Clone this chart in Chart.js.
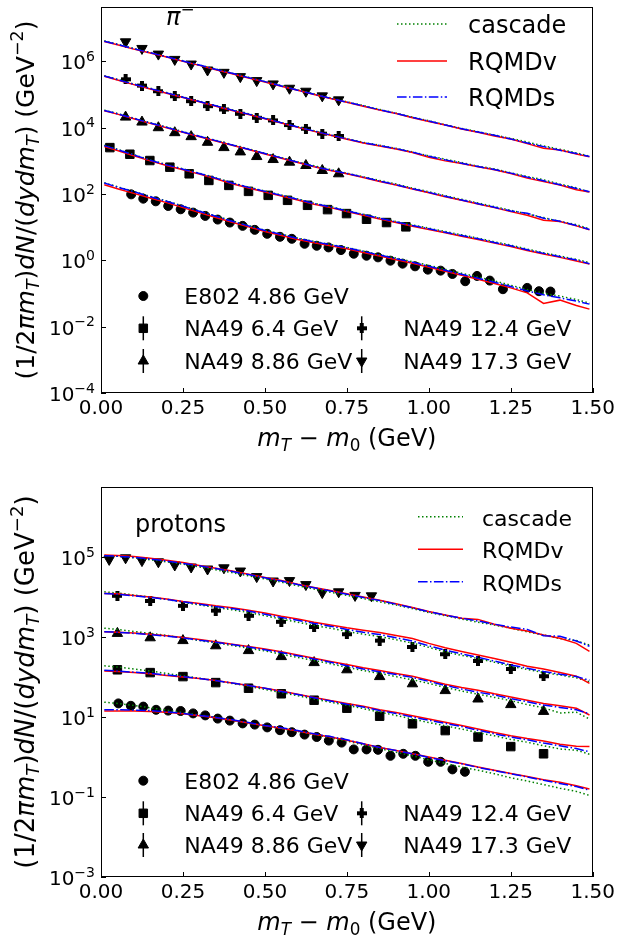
<!DOCTYPE html>
<html>
<head>
<meta charset="utf-8">
<script src="https://cdn.jsdelivr.net/npm/chart.js"></script>
<style>
  html, body { margin: 0; padding: 0; background: #fff; }
  #wrap { position: relative; width: 619px; height: 939px; }
  canvas { position: absolute; left: 0; }
  #cPi { top: 0; }
  #cP { top: 469px; }
</style>
</head>
<body>
<div id="wrap">
  <canvas id="cPi" width="619" height="470"></canvas>
  <canvas id="cP" width="619" height="470"></canvas>
</div>
<script>
'use strict';

// ─── DATA ───────────────────────────────────────────────────────────────────
// y values are kept as log10 of the value.
const xTicks = [0, 0.25, 0.5, 0.75, 1.0, 1.25, 1.5];
const piTickExp = [-4, -2, 0, 2, 4, 6];
const pTickExp = [-3, -1, 1, 3, 5];

// model curves: common mT - m0 grid (GeV)
const mtGrid = [0.01,0.05,0.10,0.15,0.20,0.25,0.30,0.35,0.40,0.45,0.50,0.55,0.60,0.65,0.70,0.75,0.80,0.85,0.90,0.95,1.00,1.05,1.10,1.15,1.20,1.25,1.30,1.35,1.40,1.45,1.49];

// pi- : cascade (C), RQMDv (V), RQMDs (S)
const piC173 = [6.62,6.52,6.39,6.27,6.14,6.02,5.89,5.77,5.64,5.52,5.39,5.27,5.14,5.02,4.90,4.78,4.67,4.55,4.44,4.32,4.21,4.09,3.98,3.88,3.78,3.68,3.57,3.45,3.35,3.24,3.14];
const piV173 = [6.60,6.50,6.37,6.25,6.13,6.00,5.88,5.75,5.63,5.50,5.38,5.25,5.13,5.00,4.88,4.77,4.65,4.53,4.43,4.30,4.19,4.08,3.96,3.86,3.75,3.66,3.52,3.38,3.33,3.21,3.12];
const piS173 = [6.61,6.51,6.38,6.26,6.14,6.01,5.89,5.76,5.64,5.51,5.39,5.26,5.13,5.01,4.89,4.77,4.66,4.54,4.43,4.31,4.20,4.08,3.97,3.87,3.77,3.66,3.54,3.43,3.32,3.22,3.13];
const piC124 = [5.57,5.46,5.32,5.19,5.06,4.93,4.80,4.67,4.54,4.42,4.29,4.16,4.03,3.91,3.79,3.67,3.56,3.47,3.38,3.27,3.15,3.05,2.95,2.84,2.76,2.64,2.53,2.43,2.30,2.19,2.05];
const piV124 = [5.55,5.44,5.30,5.17,5.04,4.91,4.78,4.65,4.52,4.40,4.27,4.14,4.01,3.89,3.77,3.65,3.54,3.45,3.36,3.25,3.11,3.00,2.92,2.82,2.73,2.62,2.48,2.38,2.27,2.13,2.06];
const piS124 = [5.56,5.45,5.31,5.18,5.05,4.92,4.79,4.66,4.53,4.41,4.28,4.15,4.02,3.90,3.78,3.66,3.55,3.46,3.37,3.26,3.14,3.03,2.93,2.83,2.74,2.63,2.51,2.40,2.28,2.17,2.07];
const piC886 = [4.53,4.43,4.29,4.15,4.02,3.88,3.75,3.62,3.49,3.36,3.23,3.10,2.97,2.85,2.74,2.63,2.52,2.41,2.30,2.18,2.07,1.95,1.84,1.73,1.62,1.51,1.40,1.29,1.17,1.08,0.95];
const piV886 = [4.51,4.41,4.27,4.13,4.00,3.86,3.73,3.60,3.47,3.34,3.21,3.08,2.95,2.82,2.71,2.61,2.50,2.38,2.27,2.15,2.04,1.92,1.81,1.70,1.59,1.47,1.36,1.21,1.17,1.04,0.92];
const piS886 = [4.52,4.42,4.28,4.14,4.01,3.87,3.74,3.61,3.48,3.35,3.22,3.09,2.96,2.83,2.72,2.62,2.51,2.39,2.28,2.16,2.05,1.93,1.82,1.71,1.60,1.49,1.42,1.27,1.18,1.05,0.93];
const piC64 = [3.47,3.35,3.19,3.03,2.89,2.76,2.63,2.49,2.34,2.21,2.09,1.97,1.85,1.72,1.62,1.50,1.39,1.28,1.17,1.07,0.97,0.87,0.77,0.67,0.56,0.46,0.34,0.23,0.13,0.03,-0.07];
const piV64 = [3.43,3.31,3.15,3.00,2.86,2.73,2.60,2.46,2.31,2.18,2.06,1.94,1.82,1.69,1.59,1.47,1.36,1.25,1.14,1.03,0.93,0.83,0.73,0.63,0.52,0.42,0.30,0.19,0.09,-0.02,-0.11];
const piS64 = [3.46,3.34,3.18,3.02,2.88,2.75,2.62,2.48,2.33,2.20,2.08,1.96,1.84,1.71,1.61,1.49,1.38,1.27,1.16,1.05,0.95,0.85,0.75,0.65,0.54,0.44,0.32,0.21,0.11,0.01,-0.10];
const piC486 = [2.34,2.22,2.08,1.93,1.79,1.64,1.49,1.34,1.19,1.05,0.91,0.79,0.67,0.57,0.48,0.39,0.28,0.17,0.07,-0.04,-0.15,-0.27,-0.39,-0.50,-0.62,-0.75,-0.88,-0.99,-1.08,-1.18,-1.29];
const piV486 = [2.28,2.16,2.02,1.88,1.74,1.59,1.44,1.29,1.15,1.01,0.87,0.75,0.63,0.53,0.44,0.35,0.24,0.13,0.02,-0.09,-0.21,-0.33,-0.45,-0.57,-0.70,-0.83,-0.98,-1.30,-1.20,-1.36,-1.47];
const piS486 = [2.33,2.21,2.07,1.92,1.78,1.63,1.48,1.33,1.18,1.04,0.90,0.78,0.66,0.56,0.47,0.38,0.27,0.16,0.05,-0.06,-0.18,-0.30,-0.42,-0.54,-0.66,-0.79,-0.92,-1.04,-1.13,-1.23,-1.32];

// pi- : measured points
const piE802X = [0.092,0.129,0.167,0.205,0.243,0.281,0.318,0.356,0.393,0.432,0.469,0.507,0.546,0.582,0.621,0.658,0.694,0.732,0.771,0.810,0.845,0.883,0.920,0.958,0.997,1.036,1.072,1.111,1.147,1.186,1.226,1.300,1.336,1.371];
const piE802 = [1.99,1.86,1.78,1.64,1.54,1.44,1.34,1.23,1.14,1.04,0.92,0.80,0.71,0.65,0.50,0.44,0.39,0.31,0.20,0.14,0.09,-0.01,-0.10,-0.18,-0.28,-0.31,-0.41,-0.63,-0.47,-0.61,-0.87,-0.83,-0.93,-0.94];
const piNA64X = [0.027,0.088,0.149,0.210,0.269,0.329,0.390,0.450,0.510,0.569,0.630,0.691,0.749,0.810,0.871,0.930];
const piNA64 = [3.40,3.20,3.01,2.81,2.61,2.41,2.26,2.08,1.96,1.81,1.66,1.53,1.41,1.24,1.14,1.01];
const piNAX = [0.075,0.125,0.175,0.225,0.275,0.325,0.375,0.425,0.475,0.525,0.575,0.625,0.675,0.725];
const piNA886 = [4.32,4.17,4.00,3.85,3.73,3.56,3.40,3.27,3.13,3.04,2.96,2.86,2.71,2.61];
const piNA124 = [5.46,5.27,5.10,4.95,4.80,4.65,4.55,4.42,4.30,4.22,4.08,3.97,3.82,3.75];
const piNA173 = [6.59,6.39,6.22,6.06,5.92,5.74,5.67,5.54,5.42,5.32,5.19,5.10,4.96,4.84];

// protons : cascade (C), RQMDv (V), RQMDs (S)
const pC173 = [5.04,5.02,4.98,4.93,4.88,4.82,4.75,4.68,4.61,4.53,4.45,4.37,4.28,4.20,4.12,4.04,3.96,3.88,3.80,3.71,3.61,3.53,3.45,3.37,3.30,3.22,3.13,3.05,2.96,2.91,2.80];
const pV173 = [5.05,5.04,5.01,4.97,4.92,4.86,4.79,4.72,4.65,4.57,4.49,4.41,4.32,4.24,4.16,4.08,4.00,3.92,3.83,3.74,3.64,3.55,3.47,3.44,3.32,3.22,3.15,3.05,2.97,2.84,2.64];
const pS173 = [5.03,5.02,4.99,4.95,4.90,4.84,4.78,4.71,4.64,4.56,4.48,4.40,4.31,4.23,4.15,4.07,3.99,3.91,3.82,3.73,3.63,3.55,3.47,3.40,3.32,3.25,3.19,3.03,3.02,2.90,2.77];
const pC124 = [4.13,4.10,4.05,4.00,3.94,3.87,3.80,3.74,3.68,3.61,3.53,3.45,3.37,3.29,3.22,3.14,3.07,3.01,2.93,2.85,2.74,2.63,2.54,2.46,2.37,2.27,2.19,2.11,2.05,1.98,1.88];
const pV124 = [4.09,4.08,4.04,4.00,3.95,3.89,3.84,3.78,3.73,3.67,3.60,3.52,3.45,3.37,3.30,3.23,3.17,3.11,3.04,2.96,2.84,2.73,2.64,2.55,2.46,2.37,2.27,2.20,2.11,2.02,1.84];
const pS124 = [4.09,4.07,4.03,3.99,3.94,3.88,3.82,3.76,3.71,3.65,3.57,3.49,3.42,3.34,3.27,3.19,3.12,3.06,2.98,2.90,2.78,2.67,2.58,2.49,2.40,2.30,2.22,2.14,2.07,2.01,1.92];
const pC886 = [3.22,3.19,3.14,3.09,3.04,2.98,2.91,2.85,2.79,2.72,2.65,2.57,2.49,2.41,2.33,2.24,2.16,2.09,2.01,1.93,1.84,1.74,1.65,1.57,1.49,1.41,1.31,1.23,1.10,1.12,0.95];
const pV886 = [3.13,3.12,3.10,3.07,3.03,2.99,2.94,2.88,2.82,2.76,2.70,2.63,2.55,2.47,2.39,2.31,2.23,2.16,2.09,2.02,1.92,1.82,1.74,1.67,1.58,1.50,1.42,1.34,1.28,1.22,1.05];
const pS886 = [3.13,3.12,3.09,3.06,3.02,2.98,2.92,2.87,2.81,2.75,2.68,2.61,2.53,2.45,2.37,2.28,2.20,2.13,2.06,1.99,1.89,1.79,1.70,1.62,1.55,1.46,1.38,1.30,1.24,1.18,1.08];
const pC64 = [2.28,2.25,2.20,2.15,2.09,2.03,1.97,1.91,1.84,1.77,1.69,1.61,1.53,1.45,1.37,1.29,1.21,1.12,1.04,0.95,0.86,0.78,0.70,0.61,0.53,0.44,0.37,0.28,0.20,0.17,0.07];
const pV64 = [2.15,2.14,2.11,2.08,2.04,2.00,1.96,1.91,1.85,1.79,1.72,1.65,1.57,1.49,1.41,1.34,1.27,1.18,1.11,1.03,0.95,0.87,0.79,0.70,0.61,0.53,0.46,0.40,0.32,0.27,0.26];
const pS64 = [2.17,2.15,2.12,2.09,2.05,2.01,1.96,1.91,1.85,1.79,1.72,1.64,1.56,1.48,1.40,1.32,1.25,1.16,1.09,1.00,0.92,0.84,0.76,0.67,0.58,0.50,0.43,0.35,0.28,0.21,0.13];
const pC486 = [1.37,1.34,1.29,1.23,1.17,1.11,1.05,0.99,0.92,0.85,0.78,0.71,0.64,0.56,0.48,0.40,0.30,0.21,0.12,0.03,-0.07,-0.16,-0.25,-0.33,-0.42,-0.52,-0.60,-0.69,-0.78,-0.86,-0.96];
const pV486 = [1.15,1.15,1.15,1.14,1.12,1.08,1.03,0.98,0.92,0.85,0.78,0.72,0.65,0.57,0.50,0.42,0.33,0.24,0.16,0.08,0.00,-0.08,-0.16,-0.25,-0.33,-0.41,-0.49,-0.57,-0.63,-0.72,-0.80];
const pS486 = [1.18,1.18,1.17,1.16,1.13,1.09,1.04,0.99,0.93,0.86,0.79,0.73,0.66,0.58,0.51,0.43,0.33,0.24,0.16,0.08,-0.01,-0.09,-0.17,-0.26,-0.34,-0.42,-0.50,-0.58,-0.66,-0.74,-0.83];

// protons : measured points
const pE802X = [0.053,0.091,0.129,0.168,0.205,0.243,0.281,0.318,0.356,0.393,0.432,0.469,0.507,0.546,0.582,0.621,0.658,0.695,0.734,0.771,0.810,0.845,0.883,0.922,0.959,0.998,1.036,1.072,1.110];
const pE802 = [1.34,1.28,1.26,1.18,1.16,1.15,1.09,1.04,0.96,0.91,0.84,0.81,0.74,0.67,0.62,0.56,0.50,0.41,0.36,0.19,0.19,0.18,0.03,0.08,0.03,-0.12,-0.12,-0.31,-0.37];
const pNAX = [0.05,0.15,0.25,0.35,0.45,0.55,0.65,0.75,0.85,0.95,1.05,1.15,1.25,1.35];
const pNA64 = [2.18,2.11,2.01,1.86,1.72,1.58,1.42,1.22,1.02,0.83,0.66,0.50,0.26,0.08];
const pNA886 = [3.09,2.98,2.91,2.78,2.66,2.51,2.36,2.18,2.01,1.83,1.66,1.45,1.31,1.14];
const pNA124 = [4.03,3.90,3.78,3.66,3.53,3.38,3.25,3.07,2.91,2.75,2.57,2.40,2.20,2.02];
const pNA173X = [0.025,0.075,0.125,0.175,0.225,0.275,0.325,0.375,0.425,0.475,0.525,0.575,0.625,0.675,0.725,0.775,0.825];
const pNA173 = [4.94,4.98,4.91,4.88,4.80,4.75,4.70,4.73,4.65,4.51,4.40,4.41,4.31,4.11,4.13,4.04,4.03];

const dataLabels = ['E802 4.86 GeV', 'NA49 6.4 GeV', 'NA49 8.86 GeV', 'NA49 12.4 GeV', 'NA49 17.3 GeV'];
const modelLabels = ['cascade', 'RQMDv', 'RQMDs'];

// ─── STYLE ──────────────────────────────────────────────────────────────────
const FONT = '"DejaVu Sans", sans-serif';
const GREEN = '#008000', RED = '#ff0000', BLUE = '#0000ff';
const DASH = { cascade: [1.5, 2.5], RQMDv: [], RQMDs: [9.6, 2.4, 1.5, 2.4] };
const LCOL = { cascade: GREEN, RQMDv: RED, RQMDs: BLUE };

function plusMarker(size, arm) {
  const c = document.createElement('canvas');
  c.width = c.height = size;
  const g = c.getContext('2d');
  g.fillStyle = '#000';
  const o = (size - arm) / 2;
  g.fillRect(o, 0, arm, size);
  g.fillRect(0, o, size, arm);
  return c;
}
const PLUS = plusMarker(10, 4);

// marker per data set, in the order of dataLabels
const MARKS = [
  { style: 'circle', r: 4.5, rot: 0, err: false },
  { style: 'rect', r: 6, rot: 0, err: true },
  { style: 'triangle', r: 6, rot: 0, err: true },
  { style: PLUS, r: 5, rot: 0, err: true },
  { style: 'triangle', r: 6, rot: 180, err: true },
];

// ─── HELPERS ────────────────────────────────────────────────────────────────
function pts(xs, lg) {
  return xs.map((x, i) => ({ x, y: Math.pow(10, lg[i]) }));
}

function modelSets(c, v, s) {
  return [[c, 'cascade', 3], [v, 'RQMDv', 2], [s, 'RQMDs', 1]].map(([lg, name, order]) => ({
    label: name,
    data: pts(mtGrid, lg),
    showLine: true,
    borderColor: LCOL[name],
    borderDash: DASH[name],
    borderWidth: 1.5,
    pointRadius: 0,
    fill: false,
    order,
  }));
}

function markerSet(i, xs, lg) {
  const m = MARKS[i];
  return {
    label: dataLabels[i],
    data: pts(xs, lg),
    showLine: false,
    pointStyle: m.style,
    pointRadius: m.r,
    pointRotation: m.rot,
    pointBackgroundColor: '#000',
    pointBorderColor: '#000',
    pointBorderWidth: 1,
    order: 4,
  };
}

function drawMark(ctx, m, x, y) {
  ctx.fillStyle = '#000';
  ctx.strokeStyle = '#000';
  ctx.lineWidth = 1;
  if (m.style instanceof HTMLCanvasElement) {
    ctx.drawImage(m.style, x - m.style.width / 2, y - m.style.height / 2);
    return;
  }
  ctx.beginPath();
  if (m.style === 'circle') {
    ctx.arc(x, y, m.r, 0, Math.PI * 2);
  } else if (m.style === 'rect') {
    const s = m.r * Math.SQRT1_2;
    ctx.rect(x - s, y - s, 2 * s, 2 * s);
  } else {
    let a = m.rot * Math.PI / 180;
    ctx.moveTo(x + Math.sin(a) * m.r, y - Math.cos(a) * m.r);
    a += 2 * Math.PI / 3;
    ctx.lineTo(x + Math.sin(a) * m.r, y - Math.cos(a) * m.r);
    a += 2 * Math.PI / 3;
    ctx.lineTo(x + Math.sin(a) * m.r, y - Math.cos(a) * m.r);
    ctx.closePath();
  }
  ctx.fill();
  ctx.stroke();
}

// rich text: parts = [text, style]; style has 'i' italic, 'b' subscript, 'p' superscript
function drawRich(ctx, parts, x, y, size, align) {
  const segs = parts.map(([t, st]) => {
    const small = st.includes('b') || st.includes('p');
    const sz = small ? size * 0.7 : size;
    const f = (st.includes('i') ? 'italic ' : '') + sz + 'px ' + FONT;
    ctx.font = f;
    const dy = st.includes('b') ? size * 0.22 : (st.includes('p') ? -size * 0.42 : 0);
    return { t, f, dy, w: ctx.measureText(t).width };
  });
  const total = segs.reduce((s, g) => s + g.w, 0);
  let cx = x;
  if (align === 'center') cx = x - total / 2;
  else if (align === 'right') cx = x - total;
  ctx.textBaseline = 'alphabetic';
  ctx.textAlign = 'left';
  segs.forEach(g => {
    ctx.font = g.f;
    ctx.fillText(g.t, cx, y + g.dy);
    cx += g.w;
  });
}

const yLabelParts = [['(1/2', ''], ['\u03C0m', 'i'], ['T', 'ib'], [')', ''], ['dN', 'i'], ['/(', ''], ['dydm', 'i'], ['T', 'ib'], [')', ''], [' (GeV', ''], ['\u22122', 'p'], [')', '']];
const xLabelParts = [['m', 'i'], ['T', 'ib'], [' \u2212 ', ''], ['m', 'i'], ['0', 'b'], [' (GeV)', '']];

// ─── OVERLAY (frame, inward ticks, labels, legends) ────────────────────────
const overlay = {
  id: 'overlay',
  afterDraw(chart) {
    const P = chart.options.plugins.overlay;
    const ctx = chart.ctx;
    const ca = chart.chartArea;
    const xs = chart.scales.x, ys = chart.scales.y;
    ctx.save();
    ctx.strokeStyle = '#000';
    ctx.lineWidth = 1;
    ctx.setLineDash([]);
    ctx.strokeRect(Math.floor(ca.left) + 0.5, Math.floor(ca.top) + 0.5,
      Math.round(ca.right - ca.left) - 1, Math.round(ca.bottom - ca.top) - 1);

    ctx.beginPath();
    P.tickExp.forEach(e => {
      const py = Math.round(ys.getPixelForValue(Math.pow(10, e))) + 0.5;
      ctx.moveTo(ca.left, py); ctx.lineTo(ca.left + 5, py);
    });
    xTicks.forEach(v => {
      const px = Math.round(xs.getPixelForValue(v)) + 0.5;
      ctx.moveTo(px, ca.bottom); ctx.lineTo(px, ca.bottom - 5);
    });
    ctx.stroke();

    // decade tick labels 10^n
    ctx.fillStyle = '#000';
    P.tickExp.forEach(e => {
      const py = ys.getPixelForValue(Math.pow(10, e));
      const ex = e < 0 ? '\u2212' + Math.abs(e) : String(e);
      drawRich(ctx, [['10', ''], [ex, 'p']], ca.left - 6, py + 8, 20, 'right');
    });

    drawRich(ctx, xLabelParts, (ca.left + ca.right) / 2, P.xLabelY, 24, 'center');
    ctx.save();
    ctx.translate(P.yLabelX, (ca.top + ca.bottom) / 2);
    ctx.rotate(-Math.PI / 2);
    drawRich(ctx, yLabelParts, 0, 0, P.yLabelSize, 'center');
    ctx.restore();

    drawRich(ctx, P.title, P.titleX, P.titleY, 24, 'left');

    // model legend
    const L = P.lineLegend;
    modelLabels.forEach((name, i) => {
      const y = L.rows[i];
      ctx.strokeStyle = LCOL[name];
      ctx.lineWidth = 1.5;
      ctx.setLineDash(DASH[name]);
      ctx.beginPath();
      ctx.moveTo(L.x0, y); ctx.lineTo(L.x1, y);
      ctx.stroke();
      ctx.setLineDash([]);
      ctx.fillStyle = '#000';
      drawRich(ctx, [[name, '']], L.tx, y + 9, L.size, 'left');
    });

    // data legend: column 1 has three entries, column 2 the last two (rows 2,3)
    const D = P.dataLegend;
    const slots = [[0, 0], [0, 1], [0, 2], [1, 1], [1, 2]];
    dataLabels.forEach((label, i) => {
      const [col, row] = slots[i];
      const mx = D.mx[col], y = D.rows[row];
      const m = MARKS[i];
      if (m.err) {
        ctx.strokeStyle = '#000';
        ctx.lineWidth = 1.5;
        ctx.beginPath();
        ctx.moveTo(mx, y - 12); ctx.lineTo(mx, y + 12);
        ctx.stroke();
      }
      drawMark(ctx, m, mx, y);
      ctx.fillStyle = '#000';
      drawRich(ctx, [[label, '']], D.tx[col], y + 8, 22, 'left');
    });
    ctx.restore();
  },
};

// ─── CHARTS ─────────────────────────────────────────────────────────────────
function makePanel(id, cfg) {
  return new Chart(document.getElementById(id), {
    type: 'scatter',
    data: { datasets: cfg.datasets },
    plugins: [overlay],
    options: {
      responsive: false,
      animation: false,
      devicePixelRatio: 1,
      events: [],
      layout: { padding: { left: 0, top: cfg.padTop, right: 26, bottom: 0 } },
      plugins: { legend: { display: false }, tooltip: { enabled: false }, overlay: cfg.overlay },
      scales: {
        x: {
          type: 'linear', min: 0, max: 1.5, bounds: 'data',
          grid: { display: false, drawTicks: false },
          border: { display: false },
          afterBuildTicks: s => { s.ticks = xTicks.map(v => ({ value: v })); },
          afterFit: s => { s.height = cfg.xAxisH; },
          ticks: { padding: 4, color: '#000', font: { family: FONT, size: 20 }, maxRotation: 0,
            callback: v => Number(v).toFixed(2) },
        },
        y: {
          type: 'logarithmic', min: Math.pow(10, cfg.yMin), max: Math.pow(10, cfg.yMax), bounds: 'data',
          grid: { display: false, drawTicks: false },
          border: { display: false },
          afterBuildTicks: s => { s.ticks = cfg.overlay.tickExp.map(e => ({ value: Math.pow(10, e) })); },
          afterFit: s => { s.width = 101; },
          ticks: { display: false },
        },
      },
    },
  });
}

makePanel('cPi', {
  padTop: 3, xAxisH: 77, yMin: -4, yMax: 7.64,
  datasets: [
    markerSet(0, piE802X, piE802),
    markerSet(1, piNA64X, piNA64),
    markerSet(2, piNAX, piNA886),
    markerSet(3, piNAX, piNA124),
    markerSet(4, piNAX, piNA173),
    ...modelSets(piC486, piV486, piS486),
    ...modelSets(piC64, piV64, piS64),
    ...modelSets(piC886, piV886, piS886),
    ...modelSets(piC124, piV124, piS124),
    ...modelSets(piC173, piV173, piS173),
  ],
  overlay: {
    tickExp: piTickExp,
    xLabelY: 446, yLabelX: 33.5, yLabelSize: 25,
    title: [['\u03C0', 'i'], ['\u2212', 'p']], titleX: 166, titleY: 25,
    lineLegend: { x0: 397, x1: 447, tx: 468, rows: [24, 61, 97], size: 24 },
    dataLegend: { mx: [143.3, 361.7], tx: [184.3, 403.3], rows: [296, 328.3, 361] },
  },
});

makePanel('cP', {
  padTop: 18, xAxisH: 62, yMin: -3, yMax: 6.75,
  datasets: [
    markerSet(0, pE802X, pE802),
    markerSet(1, pNAX, pNA64),
    markerSet(2, pNAX, pNA886),
    markerSet(3, pNAX, pNA124),
    markerSet(4, pNA173X, pNA173),
    ...modelSets(pC486, pV486, pS486),
    ...modelSets(pC64, pV64, pS64),
    ...modelSets(pC886, pV886, pS886),
    ...modelSets(pC124, pV124, pS124),
    ...modelSets(pC173, pV173, pS173),
  ],
  overlay: {
    tickExp: pTickExp,
    xLabelY: 461, yLabelX: 33.5, yLabelSize: 26,
    title: [['protons', '']], titleX: 135, titleY: 62.7,
    lineLegend: { x0: 418, x1: 463, tx: 482, rows: [47.7, 80.3, 112.7], size: 22 },
    dataLegend: { mx: [143.3, 361.7], tx: [184.3, 403.3], rows: [311.7, 344.3, 376] },
  },
});
</script>
</body>
</html>
